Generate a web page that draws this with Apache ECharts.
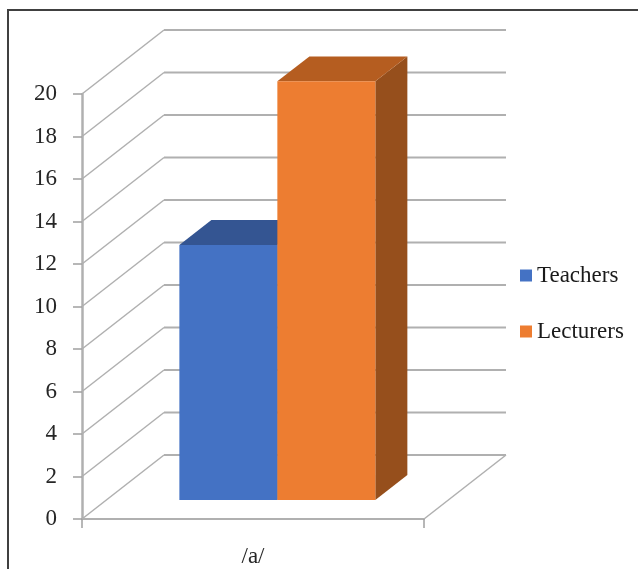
<!DOCTYPE html>
<html>
<head>
<meta charset="utf-8">
<style>html,body{margin:0;padding:0;background:#fff}#chart{width:638px;height:569px}</style>
<script src="https://cdn.jsdelivr.net/npm/echarts@6/dist/echarts.min.js"></script>
</head>
<body>
<div id="chart"></div>
<script>
// Chart data
const categories = ['/a/'];
const teachers = [12];
const lecturers = [19.7];
const yTicks = [0, 2, 4, 6, 8, 10, 12, 14, 16, 18, 20];

// Oblique projection of the floor depth, in pixels for the full depth of the box
const DEPTH_X = 82;
const DEPTH_Y = 64;
const BAR_DEPTH_FRONT = 0.297;
const BAR_DEPTH_BACK = 0.6875;
const BAR_WIDTH_SHARE = 0.2865;

const FONT = '"Liberation Serif", "Times New Roman", serif';
const GRID_COLOR = '#b0b0b0';
const TEXT_COLOR = '#262626';

function line(x1, y1, x2, y2, width) {
  return {
    type: 'line',
    shape: { x1, y1, x2, y2 },
    style: { stroke: GRID_COLOR, lineWidth: width, fill: null }
  };
}

// Side wall and back wall rules at every tick value
function renderWalls(params, api) {
  const p = api.coord([api.value(0), api.value(1)]);
  const band = api.size([1, 0])[0];
  const left = p[0] - band / 2;
  const right = p[0] + band / 2;
  const children = [
    line(left, p[1], left + DEPTH_X, p[1] - DEPTH_Y, 1.5),
    line(left + DEPTH_X, p[1] - DEPTH_Y, right + DEPTH_X, p[1] - DEPTH_Y, 2)
  ];
  if (api.value(1) === 0) {
    children.push(line(right, p[1], right + DEPTH_X, p[1] - DEPTH_Y, 1.5));
  }
  return { type: 'group', children };
}

function face(points, color) {
  return { type: 'polygon', shape: { points }, style: { fill: color } };
}

// One box of the clustered pair, slot -1 left of the band centre and 0 right of it
function boxRenderer(slot, front, top, side) {
  return function (params, api) {
    const base = api.coord([api.value(0), 0]);
    const peak = api.coord([api.value(0), api.value(1)]);
    const band = api.size([1, 0])[0];
    const w = band * BAR_WIDTH_SHARE;
    const x0 = base[0] + slot * w + BAR_DEPTH_FRONT * DEPTH_X;
    const x1 = x0 + w;
    const yb = base[1] - BAR_DEPTH_FRONT * DEPTH_Y;
    const yt = peak[1] - BAR_DEPTH_FRONT * DEPTH_Y;
    const dx = (BAR_DEPTH_BACK - BAR_DEPTH_FRONT) * DEPTH_X;
    const dy = (BAR_DEPTH_BACK - BAR_DEPTH_FRONT) * DEPTH_Y;
    return {
      type: 'group',
      children: [
        face([[x1, yb], [x1 + dx, yb - dy], [x1 + dx, yt - dy], [x1, yt]], side),
        face([[x0, yt], [x0 + dx, yt - dy], [x1 + dx, yt - dy], [x1, yt]], top),
        face([[x0, yb], [x1, yb], [x1, yt], [x0, yt]], front)
      ]
    };
  };
}

const chart = echarts.init(document.getElementById('chart'), null, { renderer: 'canvas' });
chart.setOption({
  animation: false,
  backgroundColor: '#ffffff',
  textStyle: { fontFamily: FONT },
  grid: { left: 82, top: 94, width: 342, height: 425 },
  legend: {
    data: ['Teachers', 'Lecturers'],
    orient: 'vertical',
    left: 520,
    top: 264,
    itemWidth: 12,
    itemHeight: 12,
    itemGap: 33,
    icon: 'rect',
    selectedMode: false,
    textStyle: { fontFamily: FONT, fontSize: 23, color: '#1a1a1a', padding: [0, 0, 0, 0] },
    padding: 0
  },
  xAxis: {
    type: 'category',
    data: categories,
    axisLine: { lineStyle: { color: GRID_COLOR, width: 2 } },
    axisTick: { show: true, length: 9, lineStyle: { color: '#a0a0a0', width: 1.5 } },
    axisLabel: { fontFamily: FONT, fontSize: 23, color: TEXT_COLOR, margin: 26 }
  },
  yAxis: {
    type: 'value',
    min: 0,
    max: 20,
    interval: 2,
    splitLine: { show: false },
    axisLine: { show: true, lineStyle: { color: GRID_COLOR, width: 2.5 } },
    axisTick: { show: true, length: 9, lineStyle: { color: '#a0a0a0', width: 1.5 } },
    axisLabel: { fontFamily: FONT, fontSize: 23, color: TEXT_COLOR, margin: 25 }
  },
  series: [
    {
      type: 'custom',
      name: 'walls',
      z: 1,
      silent: true,
      renderItem: renderWalls,
      encode: { x: 0, y: 1 },
      data: yTicks.map(v => [0, v])
    },
    {
      type: 'custom',
      name: 'Teachers',
      z: 2,
      itemStyle: { color: '#4472c4' },
      renderItem: boxRenderer(-1, '#4472c4', '#345592', '#2f4f8a'),
      encode: { x: 0, y: 1 },
      data: teachers.map((v, i) => [i, v])
    },
    {
      type: 'custom',
      name: 'Lecturers',
      z: 3,
      itemStyle: { color: '#ed7d31' },
      renderItem: boxRenderer(0, '#ed7d31', '#b55d20', '#964f1c'),
      encode: { x: 0, y: 1 },
      data: lecturers.map((v, i) => [i, v])
    }
  ],
  graphic: [
    {
      // Picture frame; its right and bottom edges run past the page
      type: 'rect',
      silent: true,
      shape: { x: 8, y: 10, width: 800, height: 800 },
      style: { fill: null, stroke: '#404040', lineWidth: 2 }
    }
  ]
});
</script>
</body>
</html>
